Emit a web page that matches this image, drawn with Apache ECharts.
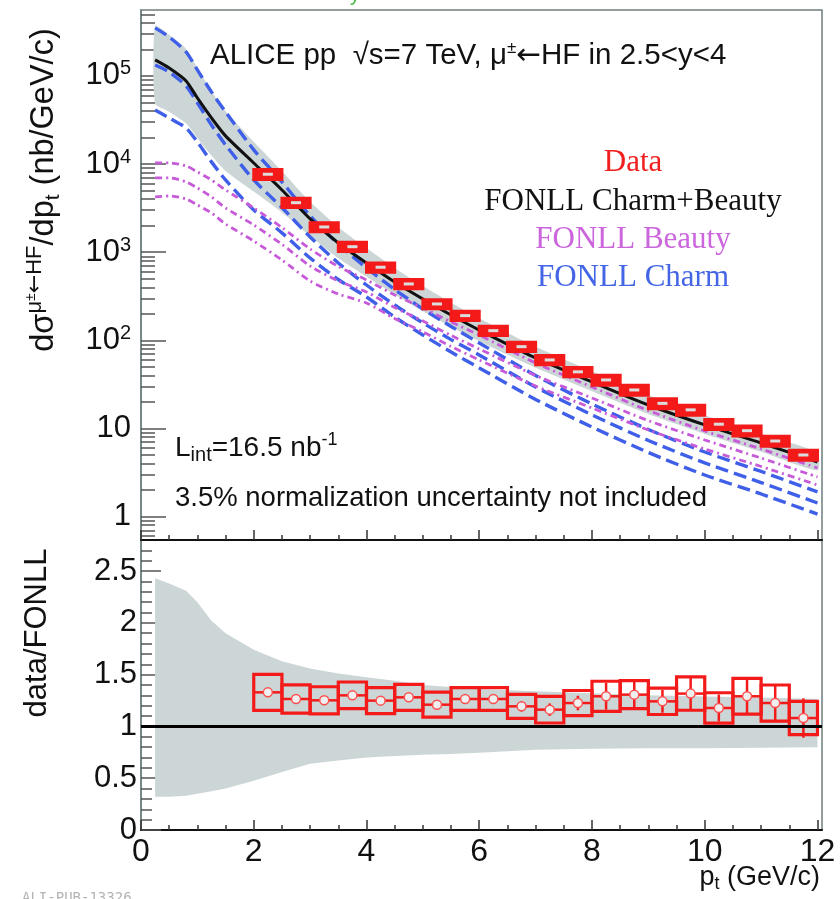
<!DOCTYPE html>
<html><head><meta charset="utf-8">
<script src="https://cdn.jsdelivr.net/npm/echarts@6/dist/echarts.min.js"></script>
<style>html,body{margin:0;padding:0;background:#fff}#c{width:840px;height:899px}</style>
</head><body><div id="c"></div>
<script>
// ---------------- data ----------------
const ptGrid = [0.25,0.5,0.8,1.0,1.25,1.5,2.0,2.5,3.0,3.5,4.0,4.5,5.0,5.5,6.0,7.0,8.0,9.0,10.0,11.0,12.0];
const fonllTotal = [152000,123000,87800,56300,33400,20900,10300,5090,2390,1275,756,460,295,194,131,63.2,33.8,18.5,11.0,6.86,4.17];
const charmUp  = [351000,277000,187000,117000,65900,39100,14500,6280,2580,1240,663,378,227,144,93.5,40.0,19.0,9.76,5.42,3.26,1.91];
const charmCen = [133000,111000,77000,49400,27800,16500,6610,3220,1490,756,425,252,158,102,68.3,29.6,14.3,7.32,4.07,2.44,1.43];
const charmLo  = [41200,33400,25700,17800,10600,6610,3020,1660,861,491,311,184,115,73.9,48.7,21.4,10.4,5.35,2.97,1.81,1.07];
const beautyUp  = [10300,10300,9530,8150,6610,5090,3180,1910,1090,690,485,328,233,162,115,55.4,29.6,16.0,9.38,5.86,3.57];
const beautyCen = [6970,6970,6280,5360,4240,3180,2040,1230,699,472,354,236,166,114,79.9,40.0,22.2,12.3,7.42,4.63,2.82];
const beautyLo  = [4240,4350,4020,3440,2790,2090,1340,817,472,336,266,177,125,85.3,60.0,30.4,17.1,9.63,5.86,3.71,2.29];
const bandRatioUp = [2.43,2.38,2.31,2.20,2.02,1.90,1.74,1.63,1.56,1.51,1.475,1.44,1.40,1.38,1.36,1.34,1.32,1.30,1.29,1.28,1.265];
const bandRatioLo = [0.32,0.32,0.33,0.35,0.375,0.40,0.475,0.56,0.64,0.67,0.70,0.715,0.726,0.735,0.745,0.774,0.785,0.79,0.79,0.795,0.80];

const dataPt = [2.25,2.75,3.25,3.75,4.25,4.75,5.25,5.75,6.25,6.75,7.25,7.75,8.25,8.75,9.25,9.75,10.25,10.75,11.25,11.75];
const dataXsec = [7670,3650,1935,1156,676,437,259,191,129,84.9,60.0,44.0,35.6,27.4,19.3,16.3,11.2,9.46,7.22,5.01];
const dataSysRel = [0.13,0.12,0.12,0.12,0.12,0.12,0.12,0.12,0.12,0.12,0.12,0.12,0.13,0.13,0.13,0.13,0.13,0.13,0.13,0.13];
const ratioVal  = [1.329,1.265,1.252,1.300,1.249,1.281,1.210,1.265,1.265,1.194,1.162,1.226,1.291,1.307,1.242,1.317,1.178,1.291,1.226,1.081];
const ratioSys  = [0.174,0.137,0.131,0.129,0.126,0.126,0.121,0.110,0.110,0.116,0.129,0.121,0.145,0.135,0.127,0.161,0.147,0.173,0.174,0.161];
const ratioStat = [0.02,0.02,0.02,0.025,0.025,0.03,0.03,0.035,0.04,0.05,0.06,0.07,0.13,0.13,0.11,0.15,0.13,0.17,0.17,0.19];
const binHalfWidth = 0.25;
const ratioRef = 1;

// axis ranges and ticks
const X_MIN = 0, X_MAX = 12.08;
const Y_MIN = 0.544, Y_MAX = 5.6e5;
const R_MIN = 0, R_MAX = 2.8;
const xTicksMajor = [0,2,4,6,8,10,12];
const xTicksMinor = [0.5,1,1.5,2.5,3,3.5,4.5,5,5.5,6.5,7,7.5,8.5,9,9.5,10.5,11,11.5];
const yTopMajor = [1,10,100,1000,10000,100000];
const yTopMinor = [0.6,0.7,0.8,0.9,2,3,4,5,6,7,8,9,20,30,40,50,60,70,80,90,200,300,400,500,600,700,800,900,
  2000,3000,4000,5000,6000,7000,8000,9000,20000,30000,40000,50000,60000,70000,80000,90000,200000,300000,400000,500000];
const yBotMajor = [0,0.5,1,1.5,2,2.5];
const yBotMinor = [0.1,0.2,0.3,0.4,0.6,0.7,0.8,0.9,1.1,1.2,1.3,1.4,1.6,1.7,1.8,1.9,2.1,2.2,2.3,2.4,2.6,2.7];

// ---------------- styles ----------------
const SANS = '"Liberation Sans", Arial, Helvetica, sans-serif';
const SERIF = '"Liberation Serif", "DejaVu Serif", serif';
const ARROWF = '"DejaVu Sans", sans-serif';
const RED = '#f41a1a', BLUE = '#3f5fe8', VIOLET = '#c65ad8', BAND = '#ccd6d6', INK = '#111';
const FRAME = '#6f7f7f';

const chart = echarts.init(document.getElementById('c'), null, {renderer: 'canvas'});

function xAxes(grid, withLabels) {
  return [
    {type:'value', gridIndex:grid, position:'bottom', min:X_MIN, max:X_MAX,
     axisLine:{show:true, lineStyle:{color:INK, width:2}},
     axisTick:{show:true, inside:true, length:10, customValues:xTicksMajor, lineStyle:{color:'#333', width:1.5}},
     axisLabel:{show:withLabels, customValues:xTicksMajor, fontSize:32, fontFamily:SANS, color:INK, margin:6},
     splitLine:{show:false}},
    {type:'value', gridIndex:grid, position:'bottom', min:X_MIN, max:X_MAX,
     axisLine:{show:false},
     axisTick:{show:true, inside:true, length:5, customValues:xTicksMinor, lineStyle:{color:'#333', width:1.5}},
     axisLabel:{show:false}, splitLine:{show:false}}
  ];
}

function logLabel(v) {
  const e = Math.round(Math.log10(v));
  if (e === 0) return '{b|1}';
  if (e === 1) return '{b|10}';
  return '{b|10}{s|' + e + '}';
}

function curve(name, arr, color, width, dash, z) {
  return {type:'line', name:name, xAxisIndex:0, yAxisIndex:0, z:z, symbol:'none', silent:true, smooth:0.25,
    data: ptGrid.map((p,i)=>[p, arr[i]]), lineStyle:{color:color, width:width, type:dash}};
}

const option = {
  animation: false,
  backgroundColor: '#fff',
  grid: [
    {left:141, top:10, right:18, height:530, show:true, borderColor:FRAME, borderWidth:1.5, backgroundColor:'transparent'},
    {left:141, top:540, right:18, height:290, show:true, borderColor:FRAME, borderWidth:1.5, backgroundColor:'transparent'}
  ],
  xAxis: [].concat(xAxes(0, false), xAxes(1, true)),
  yAxis: [
    {type:'log', logBase:10, gridIndex:0, position:'left', min:Y_MIN, max:Y_MAX,
     axisLine:{show:true, lineStyle:{color:FRAME, width:1.5}},
     axisTick:{show:true, inside:true, length:25, customValues:yTopMajor, lineStyle:{color:'#555', width:1.5}},
     axisLabel:{customValues:yTopMajor, margin:10, formatter:logLabel,
       rich:{b:{fontSize:31, fontFamily:SANS, color:INK, lineHeight:34},
             s:{fontSize:20, fontFamily:SANS, color:INK, verticalAlign:'top', lineHeight:20}}},
     splitLine:{show:false}},
    {type:'log', logBase:10, gridIndex:0, position:'left', min:Y_MIN, max:Y_MAX,
     axisLine:{show:false},
     axisTick:{show:true, inside:true, length:14, customValues:yTopMinor, lineStyle:{color:'#555', width:1.5}},
     axisLabel:{show:false}, splitLine:{show:false}},
    {type:'value', gridIndex:1, position:'left', min:R_MIN, max:R_MAX,
     axisLine:{show:true, lineStyle:{color:FRAME, width:1.5}},
     axisTick:{show:true, inside:true, length:20, customValues:yBotMajor, lineStyle:{color:'#555', width:1.5}},
     axisLabel:{customValues:yBotMajor, margin:4, fontSize:31, fontFamily:SANS, color:INK},
     splitLine:{show:false}},
    {type:'value', gridIndex:1, position:'left', min:R_MIN, max:R_MAX,
     axisLine:{show:false},
     axisTick:{show:true, inside:true, length:11, customValues:yBotMinor, lineStyle:{color:'#555', width:1.5}},
     axisLabel:{show:false}, splitLine:{show:false}}
  ],
  series: [
    // FONLL total uncertainty band (top)
    {type:'custom', name:'FONLL band', xAxisIndex:0, yAxisIndex:0, silent:true, z:1,
     data: ptGrid.map((p,i)=>[p, fonllTotal[i]*bandRatioLo[i], fonllTotal[i]*bandRatioUp[i]]),
     renderItem: function(params, api) {
       if (params.dataIndex !== 0) return null;
       const up = [], lo = [];
       for (let i = 0; i < ptGrid.length; i++) {
         up.push(api.coord([ptGrid[i], fonllTotal[i]*bandRatioUp[i]]));
         lo.push(api.coord([ptGrid[i], fonllTotal[i]*bandRatioLo[i]]));
       }
       return {type:'polygon', shape:{points: up.concat(lo.reverse()), smooth:0.2}, style:{fill:BAND}};
     }},
    curve('FONLL Charm', charmUp, BLUE, 3.4, [13,6], 3),
    curve('FONLL Charm', charmCen, BLUE, 3.4, [13,6], 3),
    curve('FONLL Charm', charmLo, BLUE, 3.4, [13,6], 3),
    curve('FONLL Beauty', beautyUp, VIOLET, 2.8, [7,4,2,4], 3),
    curve('FONLL Beauty', beautyCen, VIOLET, 2.8, [7,4,2,4], 3),
    curve('FONLL Beauty', beautyLo, VIOLET, 2.8, [7,4,2,4], 3),
    curve('FONLL Charm+Beauty', fonllTotal, INK, 3, 'solid', 4),
    // Data boxes (top)
    {type:'custom', name:'Data', xAxisIndex:0, yAxisIndex:0, z:5, silent:true,
     data: dataPt.map((p,i)=>[p, dataXsec[i], dataSysRel[i]]),
     renderItem: function(params, api) {
       const x = api.value(0), v = api.value(1), r = api.value(2);
       const a = api.coord([x - binHalfWidth, v*(1+r)]);
       const b = api.coord([x + binHalfWidth, v*(1-r)]);
       const c = api.coord([x, v]);
       return {type:'group', children:[
         {type:'rect', shape:{x:a[0], y:a[1], width:b[0]-a[0], height:b[1]-a[1]}, style:{fill:RED, stroke:RED, lineWidth:3}},
         {type:'rect', shape:{x:c[0]-5, y:c[1]-1.5, width:10, height:3}, style:{fill:'#dcdcdc'}}
       ]};
     }},
    // Ratio band (bottom)
    {type:'custom', name:'FONLL ratio band', xAxisIndex:2, yAxisIndex:2, silent:true, z:1,
     data: ptGrid.map((p,i)=>[p, bandRatioLo[i], bandRatioUp[i]]),
     renderItem: function(params, api) {
       if (params.dataIndex !== 0) return null;
       const up = [], lo = [];
       for (let i = 0; i < ptGrid.length; i++) {
         up.push(api.coord([ptGrid[i], bandRatioUp[i]]));
         lo.push(api.coord([ptGrid[i], bandRatioLo[i]]));
       }
       return {type:'polygon', shape:{points: up.concat(lo.reverse())}, style:{fill:BAND}};
     }},
    // Ratio boxes
    {type:'custom', name:'data/FONLL', xAxisIndex:2, yAxisIndex:2, z:4, silent:true,
     data: dataPt.map((p,i)=>[p, ratioVal[i], ratioSys[i], ratioStat[i]]),
     renderItem: function(params, api) {
       const x = api.value(0), v = api.value(1), s = api.value(2), st = api.value(3);
       const a = api.coord([x - binHalfWidth, v + s]);
       const b = api.coord([x + binHalfWidth, v - s]);
       const c = api.coord([x, v]);
       const t = api.coord([x, v + st]);
       const d = api.coord([x, v - st]);
       return {type:'group', children:[
         {type:'rect', shape:{x:a[0], y:a[1], width:b[0]-a[0], height:b[1]-a[1]}, style:{fill:'rgba(0,0,0,0)', stroke:RED, lineWidth:3.2}},
         {type:'line', shape:{x1:a[0], y1:c[1], x2:b[0], y2:c[1]}, style:{stroke:RED, lineWidth:2.5}},
         {type:'line', shape:{x1:c[0], y1:t[1], x2:c[0], y2:d[1]}, style:{stroke:RED, lineWidth:2.5}},
         {type:'circle', shape:{cx:c[0], cy:c[1], r:4.5}, style:{fill:'#efefef', stroke:'#ff5050', lineWidth:1.5}}
       ]};
     }},
    // unity line
    {type:'line', name:'ratio = 1', xAxisIndex:2, yAxisIndex:2, z:5, symbol:'none', silent:true,
     data:[[X_MIN, ratioRef],[X_MAX, ratioRef]], lineStyle:{color:'#000', width:3}}
  ],
  graphic: [
    {type:'text', x:210, y:56, silent:true, style:{
      text:'{t|ALICE pp  √s=7 TeV, μ}{u|±}{a|←}{t|HF in 2.5<y<4}', align:'left', verticalAlign:'middle',
      rich:{t:{fontSize:29.5, fontFamily:SANS, fill:INK, lineHeight:32},
            a:{fontSize:29.5, fontFamily:ARROWF, fill:INK, lineHeight:32},
            u:{fontSize:17, fontFamily:SANS, fill:INK, verticalAlign:'top', lineHeight:17}}}},
    {type:'text', x:633, y:163, silent:true, style:{text:'Data', fontSize:31, fontFamily:SERIF, fill:'#f02020', align:'center', verticalAlign:'middle'}},
    {type:'text', x:633, y:202, silent:true, style:{text:'FONLL Charm+Beauty', fontSize:31, fontFamily:SERIF, fill:INK, align:'center', verticalAlign:'middle'}},
    {type:'text', x:633, y:240, silent:true, style:{text:'FONLL Beauty', fontSize:31, fontFamily:SERIF, fill:'#cc66dd', align:'center', verticalAlign:'middle'}},
    {type:'text', x:633, y:278, silent:true, style:{text:'FONLL Charm', fontSize:31, fontFamily:SERIF, fill:'#4466e6', align:'center', verticalAlign:'middle'}},
    {type:'text', x:175, y:448, silent:true, style:{
      text:'{t|L}{b|int}{t|=16.5 nb}{u|-1}', align:'left', verticalAlign:'middle',
      rich:{t:{fontSize:28, fontFamily:SANS, fill:INK, lineHeight:34},
            b:{fontSize:20, fontFamily:SANS, fill:INK, verticalAlign:'bottom', lineHeight:20},
            u:{fontSize:18, fontFamily:SANS, fill:INK, verticalAlign:'top', lineHeight:18}}}},
    {type:'text', x:175, y:498, silent:true, style:{text:'3.5% normalization uncertainty not included', fontSize:27.5, fontFamily:SANS, fill:INK, align:'left', verticalAlign:'middle'}},
    {type:'text', x:44, y:190, rotation:Math.PI/2, silent:true, style:{
      text:'{n|dσ}{m|μ}{p|±}{a|←}{m|HF}{n|/dp}{q|t}{n| (nb/GeV/c)}', align:'center', verticalAlign:'middle',
      rich:{n:{fontSize:32.5, fontFamily:SANS, fill:INK, lineHeight:40},
            m:{fontSize:22, fontFamily:SANS, fill:INK, verticalAlign:'top', lineHeight:24},
            a:{fontSize:22, fontFamily:ARROWF, fill:INK, verticalAlign:'top', lineHeight:24},
            p:{fontSize:14, fontFamily:SANS, fill:INK, verticalAlign:'top', lineHeight:14},
            q:{fontSize:21, fontFamily:SANS, fill:INK, verticalAlign:'bottom', lineHeight:22}}}},
    {type:'text', x:37, y:633, rotation:Math.PI/2, silent:true, style:{text:'data/FONLL', fontSize:31, fontFamily:SANS, fill:INK, align:'center', verticalAlign:'middle'}},
    {type:'text', x:820, y:878, silent:true, style:{
      text:'{n|p}{q|t}{n| (GeV/c)}', align:'right', verticalAlign:'middle',
      rich:{n:{fontSize:27, fontFamily:SANS, fill:INK, lineHeight:30},
            q:{fontSize:18, fontFamily:SANS, fill:INK, verticalAlign:'bottom', lineHeight:18}}}},
    {type:'text', x:22, y:891, silent:true, style:{text:'ALI-PUB-13326', fontSize:14, fontFamily:'"DejaVu Sans Mono", monospace', fill:'#b4b4b4', align:'left', verticalAlign:'top'}},
    {type:'text', x:350, y:-15, silent:true, style:{text:'y', fontSize:20, fontFamily:SANS, fill:'#44bb44', align:'left', verticalAlign:'top'}}
  ]
};
chart.setOption(option);
</script>
</body></html>
